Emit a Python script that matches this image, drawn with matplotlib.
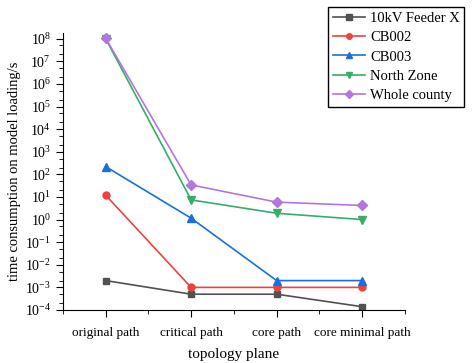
import matplotlib
matplotlib.use("Agg")
import matplotlib.pyplot as plt
from matplotlib.ticker import LogLocator, FixedLocator, NullFormatter

plt.rcParams['font.family'] = ['Liberation Serif']
plt.rcParams['mathtext.fontset'] = 'custom'
plt.rcParams['mathtext.rm'] = 'Liberation Serif'
plt.rcParams['mathtext.it'] = 'Liberation Serif:italic'

planes = ['original path', 'critical path', 'core path', 'core minimal path']
feeder = [2e-3, 5e-4, 5e-4, 1.4e-4]
cb002 = [12, 1e-3, 1e-3, 1e-3]
cb003 = [220, 1.15, 2e-3, 2e-3]
north = [1e8, 7.4, 1.9, 1.0]
county = [1.05e8, 34, 5.9, 4.2]

x = [1, 2, 3, 4]

fig = plt.figure(figsize=(4.73, 3.63), dpi=100)
ax = fig.add_axes([0.133, 0.146, 0.723, 0.763])

ax.plot(x, feeder, '-s', color='#515151', ms=5, lw=1.2, label='10kV Feeder X')
ax.plot(x, cb002, '-o', color='#F14040', ms=5, lw=1.2, label='CB002')
ax.plot(x, cb003, '-^', color='#1A6FDF', ms=6, lw=1.2, label='CB003')
ax.plot(x, north, '-v', color='#37AD6B', ms=6, lw=1.2, label='North Zone')
ax.plot(x, county, '-D', color='#B177DE', ms=5, lw=1.2, label='Whole county')

ax.set_yscale('log')
ax.set_ylim(1e-4, 10**8.25)
ax.set_xlim(0.5, 4.5)
ax.yaxis.set_major_locator(LogLocator(base=10, numticks=20))
ax.yaxis.set_minor_locator(LogLocator(base=10, subs=(2, 5), numticks=20))
ax.yaxis.set_minor_formatter(NullFormatter())
ax.set_xticks(x)
ax.set_xticklabels(planes)
ax.xaxis.set_minor_locator(FixedLocator([0.5, 1.5, 2.5, 3.5, 4.5]))

ax.spines['top'].set_visible(False)
ax.spines['right'].set_visible(False)
ax.tick_params(axis='both', which='major', direction='out', length=5, labelsize=10)
ax.tick_params(axis='x', which='major', labelsize=9.5, pad=7)
ax.tick_params(axis='both', which='minor', direction='out', length=3)

ax.set_xlabel('topology plane', fontsize=11, labelpad=7)
ax.set_ylabel('time consumption on model loading/s', fontsize=10.5, labelpad=3)

fig.legend(loc='upper right', bbox_to_anchor=(0.997, 1.0), fontsize=10.5,
           frameon=True, fancybox=False, edgecolor='black', framealpha=1,
           handlelength=2.2, handletextpad=0.35, borderpad=0.3,
           labelspacing=0.42, markerscale=0.8)

fig.savefig('out.png', dpi=100)
